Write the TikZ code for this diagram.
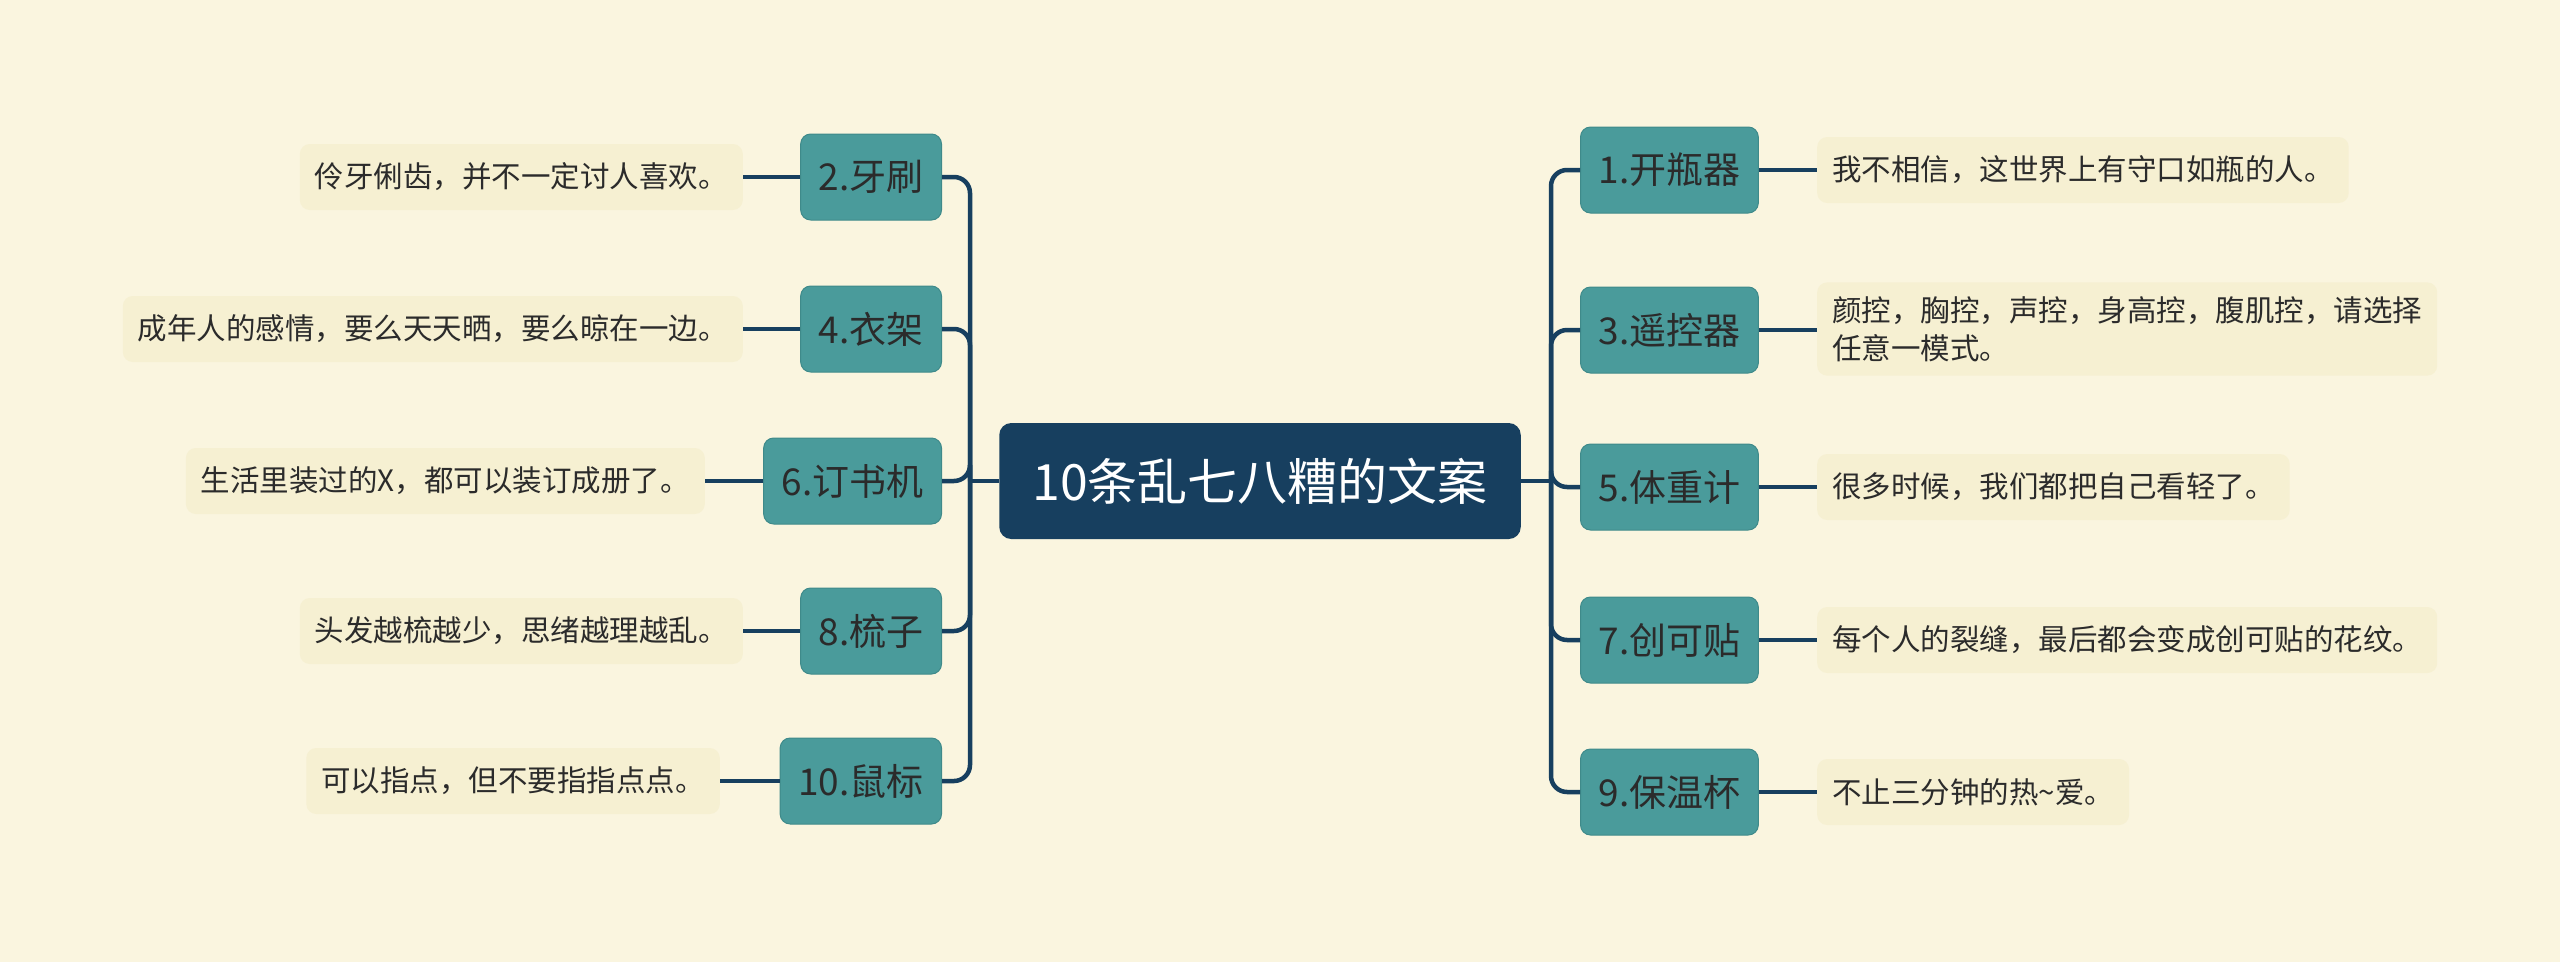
\documentclass[tikz,border=0pt]{standalone}
\usepackage{fontspec}
\newfontfamily\cjk{Noto Sans CJK SC}
\definecolor{bg}{HTML}{FAF5DF}
\definecolor{navy}{HTML}{173F5F}
\definecolor{teal}{HTML}{4A9B9B}
\definecolor{tealb}{HTML}{3F8A8A}
\definecolor{descf}{HTML}{F6F0D2}
\definecolor{txt}{HTML}{2B2B2B}
\tikzset{
  root/.style={fill=navy, rounded corners=12pt, text=white, inner xsep=33pt, minimum height=116pt, font=\cjk\fontsize{50}{58}\selectfont},
  topic/.style={fill=teal, draw=tealb, line width=1pt, rounded corners=10pt, text=txt, inner xsep=18pt, minimum height=86pt, font=\cjk\fontsize{37}{43}\selectfont},
  desc/.style={fill=descf, rounded corners=10pt, text=txt, inner xsep=15pt, inner ysep=14pt, minimum height=66pt, align=left, font=\cjk\fontsize{29.5}{38}\selectfont},
  conn/.style={draw=navy, line width=4.5pt},
  trunk/.style={conn, rounded corners=16pt},
}
\begin{document}
\begin{tikzpicture}[x=1pt,y=-1pt]
\fill[bg] (0,0) rectangle (2560,962);
\useasboundingbox (0,0) rectangle (2560,962);

\node[root] (c) at (1260,481) {10条乱七八糟的文案};

\coordinate (rj) at (1551,481);
\coordinate (lj) at (970,481);

% right topics
\node[topic, anchor=west] (t1) at (1580,170) {1.开瓶器};
\node[topic, anchor=west] (t3) at (1580,330) {3.遥控器};
\node[topic, anchor=west] (t5) at (1580,487) {5.体重计};
\node[topic, anchor=west] (t7) at (1580,640) {7.创可贴};
\node[topic, anchor=west] (t9) at (1580,792) {9.保温杯};

% left topics
\node[topic, anchor=east] (t2) at (942,177) {2.牙刷};
\node[topic, anchor=east] (t4) at (942,329) {4.衣架};
\node[topic, anchor=east] (t6) at (942,481) {6.订书机};
\node[topic, anchor=east] (t8) at (942,631) {8.梳子};
\node[topic, anchor=east] (t10) at (942,781) {10.鼠标};

% right descriptions
\node[desc, anchor=west] (d1) at (1817,170) {我不相信，这世界上有守口如瓶的人。};
\node[desc, anchor=west] (d3) at (1817,329) {颜控，胸控，声控，身高控，腹肌控，请选择\\任意一模式。};
\node[desc, anchor=west] (d5) at (1817,487) {很多时候，我们都把自己看轻了。};
\node[desc, anchor=west] (d7) at (1817,640) {每个人的裂缝，最后都会变成创可贴的花纹。};
\node[desc, anchor=west] (d9) at (1817,792) {不止三分钟的热\textasciitilde 爱。};

% left descriptions
\node[desc, anchor=east] (d2) at (743,177) {伶牙俐齿，并不一定讨人喜欢。};
\node[desc, anchor=east] (d4) at (743,329) {成年人的感情，要么天天晒，要么晾在一边。};
\node[desc, anchor=east] (d6) at (705,481) {生活里装过的X，都可以装订成册了。};
\node[desc, anchor=east] (d8) at (743,631) {头发越梳越少，思绪越理越乱。};
\node[desc, anchor=east] (d10) at (720,781) {可以指点，但不要指指点点。};

% trunks
\draw[conn] (c.east) -- (rj);
\draw[conn] (c.west) -- (lj);
\foreach \t in {t1,t3,t5,t7,t9} \draw[trunk] (rj) |- (\t.west);
\foreach \t in {t2,t4,t6,t8,t10} \draw[trunk] (lj) |- (\t.east);

% topic to description
\foreach \t/\d in {t1/d1,t3/d3,t5/d5,t7/d7,t9/d9}
  \draw[conn] (\t.east) -- (\t.east -| \d.west);
\foreach \t/\d in {t2/d2,t4/d4,t6/d6,t8/d8,t10/d10}
  \draw[conn] (\t.west) -- (\t.west -| \d.east);
\end{tikzpicture}
\end{document}
